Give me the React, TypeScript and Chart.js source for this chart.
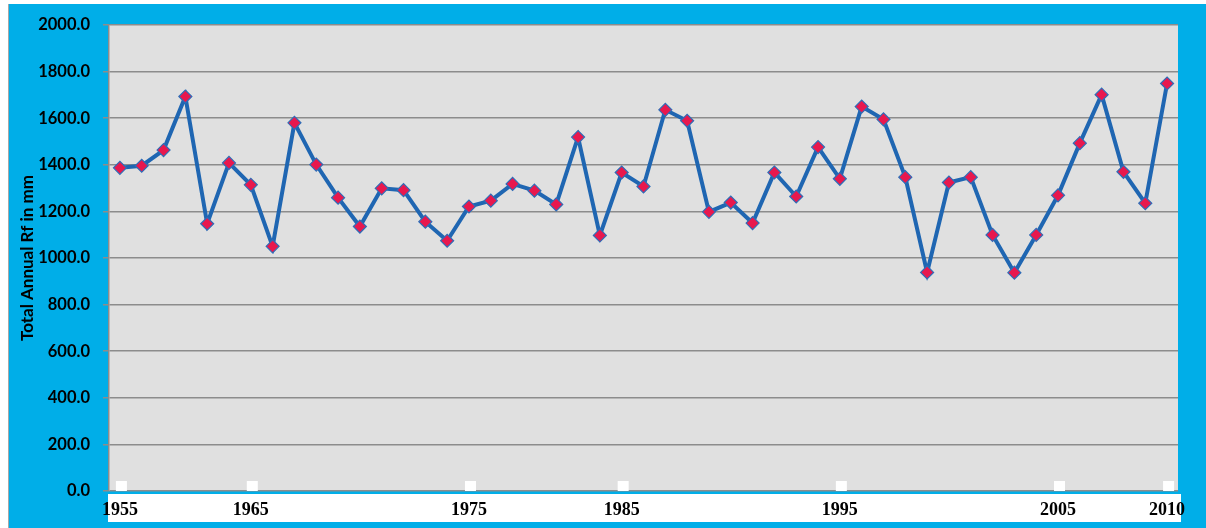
import React, { useEffect, useRef } from "react";
import { Chart, registerables } from "chart.js";

Chart.register(...registerables);

const rainfall: number[] = [
  1387, 1396, 1463, 1693, 1147, 1408, 1314, 1050, 1580, 1401,
  1259, 1135, 1299, 1291, 1156, 1074, 1221, 1246, 1318, 1289,
  1230, 1519, 1097, 1367, 1307, 1636, 1589, 1198, 1238, 1150,
  1367, 1264, 1476, 1340, 1650, 1595, 1347, 938, 1324, 1347,
  1099, 937, 1099, 1269, 1493, 1701, 1370, 1235, 1749,
];

const yearLabels: string[] = [
  "1955", "", "", "", "", "", "1965", "", "", "",
  "", "", "", "", "", "", "1975", "", "", "",
  "", "", "", "1985", "", "", "", "", "", "",
  "", "", "", "1995", "", "", "", "", "", "",
  "", "", "", "2005", "", "", "", "", "2010",
];

const yTitle = "Total Annual Rf in mm";

const CYAN = "#00AEE8";
const PLOT_BG = "#E0E0E0";
const GRID = "#8C8C8C";

const backgroundPlugin = {
  id: "bgPlugin",
  beforeDraw(chart: any) {
    const { ctx, chartArea, width, height } = chart;
    ctx.save();
    ctx.fillStyle = "#FFFFFF";
    ctx.fillRect(0, 0, width, height);
    ctx.fillStyle = CYAN;
    ctx.fillRect(8, 4, width - 8, height - 4);
    ctx.fillStyle = "#A8A8A8";
    ctx.fillRect(8, 4, 1, height - 4);
    ctx.fillStyle = PLOT_BG;
    ctx.fillRect(chartArea.left, chartArea.top, chartArea.right - chartArea.left, chartArea.bottom - chartArea.top);
    ctx.fillStyle = "#FFFFFF";
    ctx.fillRect(chartArea.left - 1, chartArea.bottom + 3, chartArea.right - chartArea.left + 4, 28);
    ctx.restore();
  },
  afterDatasetsDraw(chart: any) {
    const { ctx, chartArea, scales } = chart;
    const xs = scales.x;
    ctx.save();
    ctx.fillStyle = "#FFFFFF";
    yearLabels.forEach((lab, i) => {
      if (!lab) return;
      const px = xs.getPixelForValue(i);
      ctx.fillRect(px - 4, chartArea.bottom - 10, 11, 10);
    });
    ctx.restore();
  },
};

export default function App() {
  const ref = useRef<HTMLCanvasElement | null>(null);

  useEffect(() => {
    if (!ref.current) return;
    const chart = new Chart(ref.current, {
      type: "line",
      data: {
        labels: yearLabels,
        datasets: [
          {
            data: rainfall,
            borderColor: "#1F66B2",
            borderWidth: 4,
            pointStyle: "rectRot",
            pointRadius: 6.5,
            pointBackgroundColor: "#E8184E",
            pointBorderColor: "#2F6DB8",
            pointBorderWidth: 1.2,
            tension: 0,
          },
        ],
      },
      plugins: [backgroundPlugin],
      options: {
        animation: false,
        responsive: false,
        maintainAspectRatio: false,
        layout: { padding: { top: 25, right: 28, left: 0, bottom: 0 } },
        plugins: {
          legend: { display: false },
          tooltip: { enabled: false },
        },
        scales: {
          x: {
            type: "category",
            offset: true,
            grid: { display: false, drawTicks: false },
            border: { display: false },
            ticks: {
              autoSkip: false,
              maxRotation: 0,
              minRotation: 0,
              padding: 9,
              color: "#000000",
              font: { family: "'Liberation Serif', 'Times New Roman', serif", size: 18, weight: "bold" },
              callback: (_v: any, i: number) => yearLabels[i],
            },
            afterFit: (scale: any) => {
              scale.height = 37;
            },
          },
          y: {
            min: 0,
            max: 2000,
            grid: {
              color: GRID,
              lineWidth: 1.5,
              drawTicks: true,
              tickLength: 6,
              tickColor: GRID,
            },
            border: { display: true, color: GRID, width: 1.5 },
            ticks: {
              stepSize: 200,
              padding: 13,
              color: "#000000",
              font: { family: "Lato", size: 16.5, weight: "bold" },
              callback: (v: any) => Number(v).toFixed(1),
            },
            title: {
              display: true,
              text: yTitle,
              color: "#000000",
              font: { family: "Lato", size: 17, weight: "bold" },
              padding: { top: 17, bottom: 0 },
            },
            afterFit: (scale: any) => {
              scale.width = 109;
            },
          },
        },
      },
    });
    return () => chart.destroy();
  }, []);

  return (
    <div style={{ position: "absolute", left: 0, top: 0, width: 1206, height: 528 }}>
      <canvas ref={ref} width={1206} height={528} style={{ width: 1206, height: 528, display: "block" }} />
    </div>
  );
}
